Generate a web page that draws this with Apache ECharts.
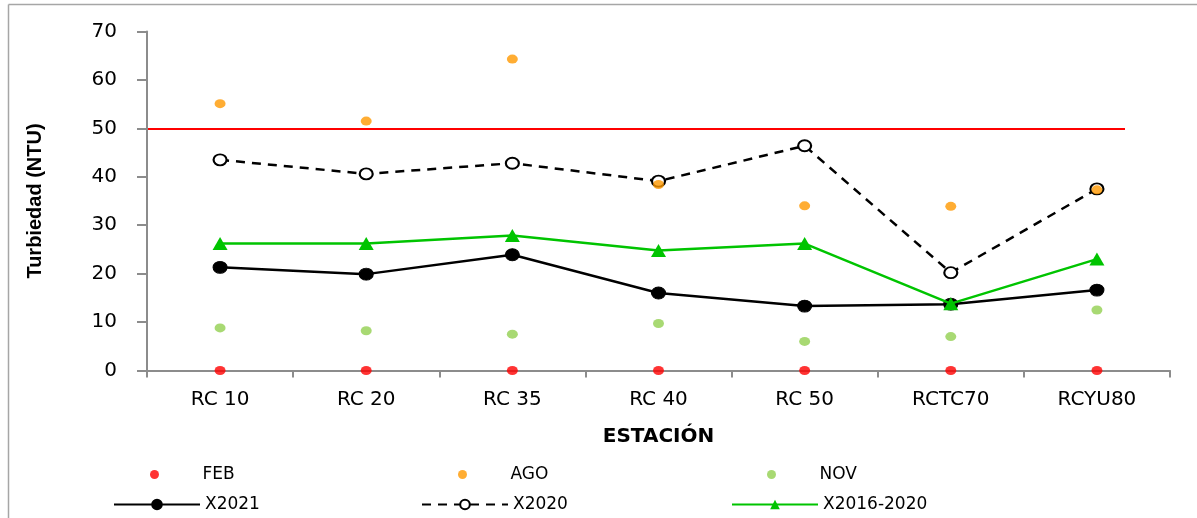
<!DOCTYPE html>
<html>
<head>
<meta charset="utf-8">
<script src="https://cdn.jsdelivr.net/npm/echarts@6/dist/echarts.min.js"></script>
<style>
html,body{margin:0;padding:0;background:#fff;}
#chart{width:1197px;height:518px;}
</style>
</head>
<body>
<div id="chart"></div>
<script>
// ---- data ----
const categories = ['RC 10', 'RC 20', 'RC 35', 'RC 40', 'RC 50', 'RCTC70', 'RCYU80'];
const feb = [0, 0, 0, 0, 0, 0, 0];
const ago = [55.1, 51.5, 64.3, 38.4, 34.0, 33.9, 37.3];
const nov = [8.8, 8.2, 7.5, 9.7, 6.0, 7.0, 12.5];
const x2021 = [21.3, 19.9, 23.9, 16.0, 13.3, 13.7, 16.6];
const x2020 = [43.5, 40.6, 42.8, 39.1, 46.4, 20.2, 37.5];
const x2016_2020 = [26.2, 26.2, 27.9, 24.8, 26.2, 13.8, 23.0];
const yMin = 0, yMax = 70, yStep = 10;
const LIMIT = 50;

const labelFont = 'DejaVu Sans';

function legendAt(name, left, top, itemHeight) {
  return {
    data: [name], left: left, top: top, orient: 'horizontal', padding: 0,
    itemWidth: 86, itemHeight: itemHeight, itemGap: 0, selectedMode: false,
    textStyle: { fontFamily: labelFont, fontSize: 17, color: '#000' }
  };
}

const chart = echarts.init(document.getElementById('chart'), null, { renderer: 'canvas' });
chart.setOption({
  animation: false,
  backgroundColor: '#ffffff',
  graphic: [
    { type: 'line', silent: true, z: -1,
      shape: { x1: 8.5, y1: 4.5, x2: 1197, y2: 4.5 },
      style: { stroke: '#a6a6a6', lineWidth: 1.5 } },
    { type: 'line', silent: true, z: -1,
      shape: { x1: 8.5, y1: 4.5, x2: 8.5, y2: 518 },
      style: { stroke: '#a6a6a6', lineWidth: 1.5 } }
  ],
  grid: { left: 147, right: 27, top: 31.5, bottom: 147.5, containLabel: false },
  legend: [
    legendAt('FEB', 150, 466, 9),
    legendAt('AGO', 458, 466, 9),
    legendAt('NOV', 767, 466, 9),
    legendAt('X2021', 113, 496, 12),
    legendAt('X2020', 421, 496, 12),
    legendAt('X2016-2020', 731, 496, 12)
  ],
  xAxis: {
    type: 'category', data: categories, boundaryGap: true,
    name: 'ESTACIÓN', nameLocation: 'middle', nameGap: 56,
    nameTextStyle: { fontFamily: labelFont, fontWeight: 'bold', fontSize: 20, color: '#000' },
    axisLine: { show: true, lineStyle: { color: '#8c8c8c', width: 2 } },
    axisTick: { show: true, alignWithLabel: false, length: 7, inside: false, lineStyle: { color: '#8c8c8c', width: 2 } },
    axisLabel: { fontFamily: labelFont, fontSize: 20, color: '#000', margin: 19, interval: 0 },
    splitLine: { show: false }
  },
  yAxis: {
    type: 'value', min: yMin, max: yMax, interval: yStep,
    name: 'Turbiedad (NTU)', nameLocation: 'middle', nameGap: 102, nameRotate: 90,
    nameTextStyle: { fontFamily: 'Liberation Sans', fontWeight: 'bold', fontSize: 20, color: '#000' },
    axisLine: { show: true, lineStyle: { color: '#8c8c8c', width: 2 } },
    axisTick: { show: true, length: 10, inside: false, lineStyle: { color: '#8c8c8c', width: 2 } },
    axisLabel: { fontFamily: labelFont, fontSize: 20, color: '#000', margin: 30 },
    splitLine: { show: false }
  },
  series: [
    {
      name: 'X2021', type: 'line', data: x2021, z: 3,
      symbol: 'circle', symbolSize: [14, 12], showAllSymbol: true,
      lineStyle: { color: '#000', width: 2.5 },
      itemStyle: { color: '#000', borderColor: '#000', borderWidth: 1 },
      markLine: {
        silent: true, symbol: 'none', label: { show: false },
        lineStyle: { color: '#ff0000', width: 2, type: 'solid' },
        emphasis: { disabled: true },
        data: [[{ yAxis: LIMIT, x: 148 }, { yAxis: LIMIT, x: 1125 }]]
      }
    },
    {
      name: 'X2020', type: 'line', data: x2020, z: 3,
      symbol: 'circle', symbolSize: [13, 11], showAllSymbol: true,
      lineStyle: { color: '#000', width: 2.5, type: [9, 7] },
      itemStyle: { color: '#fff', borderColor: '#000', borderWidth: 2 }
    },
    {
      name: 'X2016-2020', type: 'line', data: x2016_2020, z: 4,
      symbol: 'triangle', symbolSize: [15, 13], showAllSymbol: true,
      lineStyle: { color: '#00c400', width: 2.5 },
      itemStyle: { color: '#00c400' }
    },
    {
      name: 'FEB', type: 'scatter', data: feb, z: 5, clip: false,
      symbol: 'circle', symbolSize: [11, 9], itemStyle: { color: '#ff0000' }
    },
    {
      name: 'AGO', type: 'scatter', data: ago, z: 5, clip: false,
      symbol: 'circle', symbolSize: [11, 9], itemStyle: { color: '#ff9900' }
    },
    {
      name: 'NOV', type: 'scatter', data: nov, z: 5, clip: false,
      symbol: 'circle', symbolSize: [11, 9], itemStyle: { color: '#92d050' }
    }
  ]
});
</script>
</body>
</html>
